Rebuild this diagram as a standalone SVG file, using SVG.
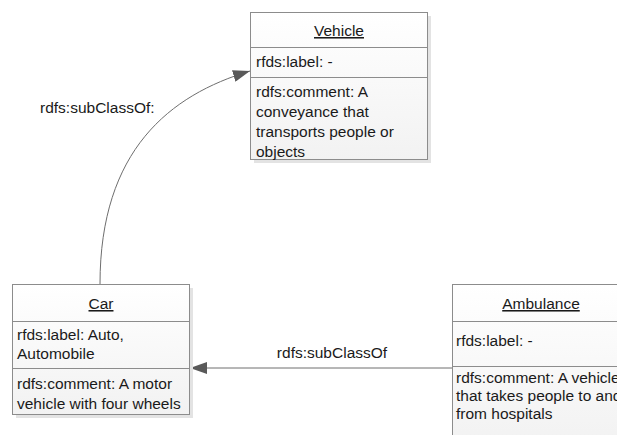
<svg xmlns="http://www.w3.org/2000/svg" width="617" height="435" viewBox="0 0 617 435">
<style>
.t{font-family:"Liberation Sans",Arial,sans-serif;font-size:15.5px;fill:#1a1a1a}
.title{text-anchor:middle;text-decoration:underline}
.box{fill:url(#g);stroke:#8c8c8c;stroke-width:1}
.sh{fill:#e3e3e3}
.div{stroke:#8c8c8c;stroke-width:1}
.conn{fill:none;stroke:#6e6e6e;stroke-width:1}
</style>
<defs>
<linearGradient id="g" x1="0" y1="0" x2="0" y2="1">
<stop offset="0" stop-color="#ffffff"/>
<stop offset="1" stop-color="#f2f2f2"/>
</linearGradient>
<marker id="arr" viewBox="0 0 17 12" refX="17" refY="6" markerWidth="17" markerHeight="12" markerUnits="userSpaceOnUse" orient="auto">
<path d="M0,0 L17,6 L0,12 Z" fill="#595959"/>
</marker>
</defs>
<rect width="617" height="435" fill="#ffffff"/>
<g id="connectors">
<path class="conn" d="M100,284 C100,150 170,95 250,71" marker-end="url(#arr)"/>
<line class="conn" x1="452" y1="368" x2="190" y2="368" marker-end="url(#arr)"/>
<text class="t" x="40" y="113">rdfs:subClassOf:</text>
<text class="t" x="332" y="358" text-anchor="middle">rdfs:subClassOf</text>
</g>
<g id="vehicle">
<rect class="sh" x="254" y="16" width="177" height="147"/>
<rect class="box" x="250.5" y="12.5" width="177" height="147"/>
<line class="div" x1="250.5" y1="47.5" x2="427.5" y2="47.5"/>
<line class="div" x1="250.5" y1="77.5" x2="427.5" y2="77.5"/>
<text class="t title" x="339" y="36">Vehicle</text>
<text class="t" x="256" y="67">rfds:label: -</text>
<text class="t" x="256" y="97">rdfs:comment: A</text>
<text class="t" x="256" y="117">conveyance that</text>
<text class="t" x="256" y="137">transports people or</text>
<text class="t" x="256" y="157">objects</text>
</g>
<g id="car">
<rect class="sh" x="16" y="288" width="177" height="130"/>
<rect class="box" x="12.5" y="284.5" width="177" height="130"/>
<line class="div" x1="12.5" y1="321.5" x2="189.5" y2="321.5"/>
<line class="div" x1="12.5" y1="368.5" x2="189.5" y2="368.5"/>
<text class="t title" x="101" y="309">Car</text>
<text class="t" x="17" y="340">rfds:label: Auto,</text>
<text class="t" x="17" y="359">Automobile</text>
<text class="t" x="17" y="389">rdfs:comment: A motor</text>
<text class="t" x="17" y="409">vehicle with four wheels</text>
</g>
<g id="ambulance">
<rect class="sh" x="456" y="288" width="177" height="160"/>
<rect class="box" x="452.5" y="284.5" width="177" height="160"/>
<line class="div" x1="452.5" y1="321.5" x2="629.5" y2="321.5"/>
<line class="div" x1="452.5" y1="366.5" x2="629.5" y2="366.5"/>
<text class="t title" x="541" y="309">Ambulance</text>
<text class="t" x="456" y="346">rfds:label: -</text>
<text class="t" x="456" y="383">rdfs:comment: A vehicle</text>
<text class="t" x="456" y="401">that takes people to and</text>
<text class="t" x="456" y="419">from hospitals</text>
</g>
</svg>
